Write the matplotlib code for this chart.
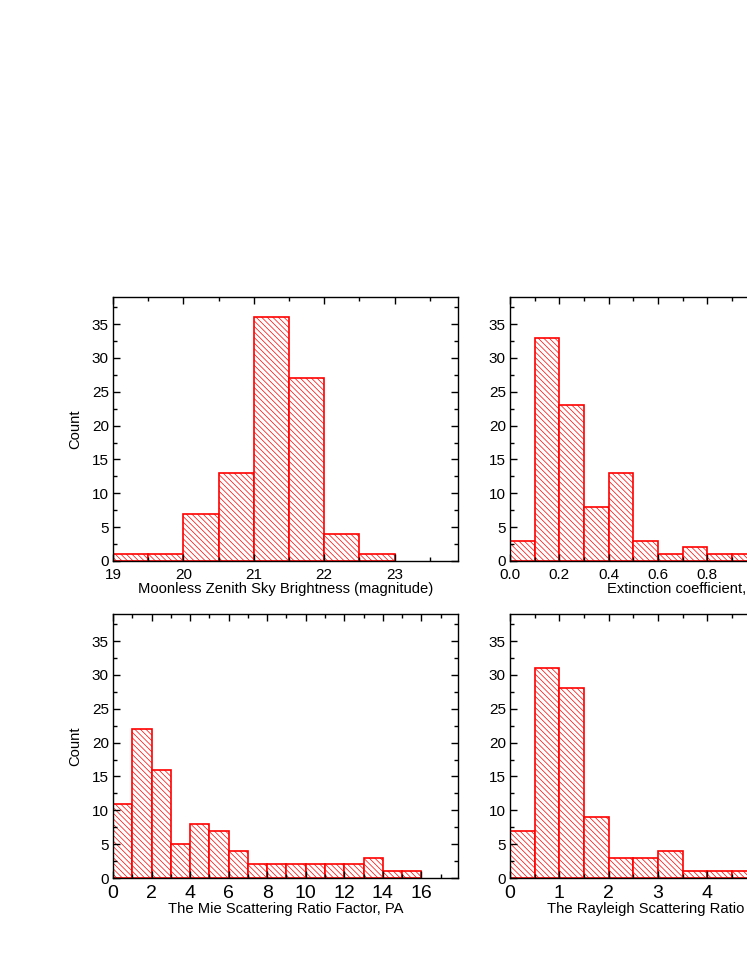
import matplotlib
matplotlib.use("Agg")
import matplotlib.pyplot as plt
import numpy as np
from matplotlib.ticker import MultipleLocator

plt.rcParams['font.family'] = ['Liberation Sans', 'DejaVu Sans']
plt.rcParams['hatch.color'] = '#ff5a5a'
plt.rcParams['hatch.linewidth'] = 0.5

# histogram counts
sky_start, sky_width = 19.0, 0.5
sky_counts = [1, 1, 7, 13, 36, 27, 4, 1]

ext_start, ext_width = 0.0, 0.1
ext_counts = [3, 33, 23, 8, 13, 3, 1, 2, 1, 1]

mie_start, mie_width = 0.0, 1.0
mie_counts = [11, 22, 16, 5, 8, 7, 4, 2, 2, 2, 2, 2, 2, 3, 1, 1]

ray_start, ray_width = 0.0, 0.5
ray_counts = [7, 31, 28, 9, 3, 3, 4, 1, 1, 1]

panels = [
    # counts, start, width, xlim, xlabel, major, minor, tick size, fmt, ylabel
    (sky_counts, sky_start, sky_width, (19, 23.9), "Moonless Zenith Sky Brightness (magnitude)", 1, 0.5, 11, "%d", True),
    (ext_counts, ext_start, ext_width, (0, 1.4), "Extinction coefficient, k", 0.2, 0.1, 11, "%.1f", False),
    (mie_counts, mie_start, mie_width, (0, 17.9), "The Mie Scattering Ratio Factor, PA", 2, 1, 14, "%d", True),
    (ray_counts, ray_start, ray_width, (0, 7.0), "The Rayleigh Scattering Ratio Factor, PR", 1, 0.5, 14, "%d", False),
]

fig = plt.figure(figsize=(7.47, 9.67), dpi=100)

W, H = 747.0, 967.0
lefts = [113, 510]
bottoms = [561, 878]
aw, ah = 345, 264

for i, (counts, start, width, xlim, xlabel, major, minor, tsize, fmt, show_y) in enumerate(panels):
    col = i % 2
    row = i // 2
    ax = fig.add_axes([lefts[col] / W, 1 - bottoms[row] / H, aw / W, ah / H])
    edges = start + width * np.arange(len(counts))
    ax.bar(edges, counts, width=width, align='edge', facecolor='white',
           edgecolor='red', hatch='\\' * 6, linewidth=1.2)
    ax.set_xlim(*xlim)
    ax.set_ylim(0, 39)
    ax.xaxis.set_major_locator(MultipleLocator(major))
    ax.xaxis.set_minor_locator(MultipleLocator(minor))
    ax.yaxis.set_major_locator(MultipleLocator(5))
    ax.yaxis.set_minor_locator(MultipleLocator(2.5))
    ax.xaxis.set_major_formatter(matplotlib.ticker.FormatStrFormatter(fmt))
    ax.tick_params(which='both', direction='in', top=True, right=True, width=1.0)
    ax.tick_params(which='major', length=5)
    ax.tick_params(which='minor', length=3)
    ax.tick_params(axis='y', labelsize=11, pad=3)
    ax.tick_params(axis='x', labelsize=tsize, pad=5)
    for s in ax.spines.values():
        s.set_linewidth(1.0)
    ax.set_xlabel(xlabel, fontsize=10.6, labelpad=0)
    if show_y:
        ax.set_ylabel("Count", fontsize=10.6, labelpad=7)

fig.savefig("out.png", dpi=100)
